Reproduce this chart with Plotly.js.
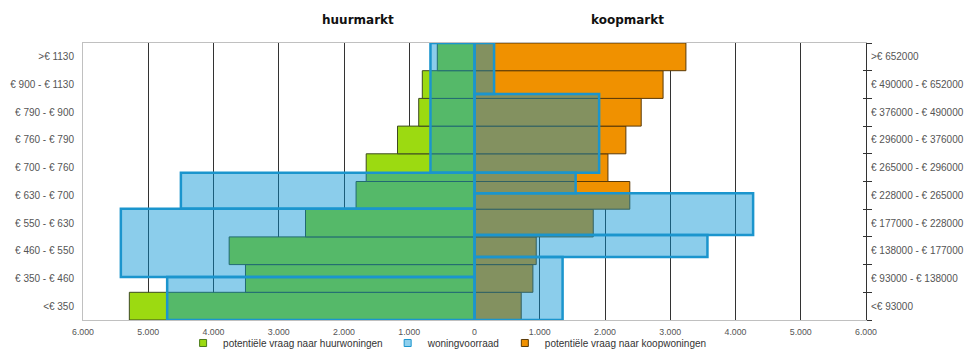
<!DOCTYPE html>
<html>
<head>
<meta charset="utf-8">
<script src="https://cdn.plot.ly/plotly-3.0.1.min.js"></script>
<style>html,body{margin:0;padding:0;background:#fff;}#chart{width:967px;height:351px;}</style>
</head>
<body>
<div id="chart"></div>
<script>
// Rent classes (left, bottom to top) and purchase-price classes (right)
const rentClasses = ['<€ 350', '€ 350 - € 460', '€ 460 - € 550', '€ 550 - € 630', '€ 630 - € 700',
  '€ 700 - € 760', '€ 760 - € 790', '€ 790 - € 900', '€ 900 - € 1130', '>€ 1130'];
const buyClasses = ['<€ 93000', '€ 93000 - € 138000', '€ 138000 - € 177000', '€ 177000 - € 228000',
  '€ 228000 - € 265000', '€ 265000 - € 296000', '€ 296000 - € 376000', '€ 376000 - € 490000',
  '€ 490000 - € 652000', '>€ 652000'];

// potentiële vraag naar huurwoningen (per rent class)
const rentDemand = [5290, 3510, 3760, 2590, 1815, 1660, 1180, 855, 800, 570];
// potentiële vraag naar koopwoningen (per price class)
const buyDemand = [716, 895, 946, 1820, 2380, 2045, 2320, 2555, 2890, 3240];

// woningvoorraad: stock groups, with class edges expressed in class-scale units (0 = bottom, 10 = top)
const stockRentEdges = [0, 1.55, 4.02, 5.32, 10];
const stockRent = [4710, 5420, 4500, 675];
const stockBuyEdges = [0, 2.27, 3.07, 4.58, 5.32, 8.16, 10];
const stockBuy = [1350, 3570, 4270, 1550, 1910, 300];

// axis ticks
const xTickVals = [-6000, -5000, -4000, -3000, -2000, -1000, 0, 1000, 2000, 3000, 4000, 5000, 6000];
const xTickText = ['6.000', '5.000', '4.000', '3.000', '2.000', '1.000', '0', '1.000', '2.000', '3.000', '4.000', '5.000', '6.000'];

// legend entries
const legendNames = ['potentiële vraag naar huurwoningen', 'woningvoorraad', 'potentiële vraag naar koopwoningen'];

// build stock bars (centre + thickness from edges)
const stockY = [], stockW = [], stockX = [];
for (let i = 0; i < stockRent.length; i++) {
  stockY.push((stockRentEdges[i] + stockRentEdges[i + 1]) / 2);
  stockW.push(stockRentEdges[i + 1] - stockRentEdges[i]);
  stockX.push(-stockRent[i]);
}
for (let i = 0; i < stockBuy.length; i++) {
  stockY.push((stockBuyEdges[i] + stockBuyEdges[i + 1]) / 2);
  stockW.push(stockBuyEdges[i + 1] - stockBuyEdges[i]);
  stockX.push(stockBuy[i]);
}

const FONT = 'Liberation Sans, Arial, sans-serif';
const GREEN = '#9cda11', GREEN_LINE = '#3d4a22';
const ORANGE = '#f09100', ORANGE_LINE = '#5a3a08';
const BLUE_FILL = 'rgba(0,145,211,0.455)', BLUE_LINE = '#1b95cd';

const traces = [
  {
    type: 'bar', orientation: 'h', name: legendNames[0],
    y: rentClasses, x: rentDemand.map(v => -v), yaxis: 'y', xaxis: 'x',
    marker: {color: GREEN, line: {color: GREEN_LINE, width: 1}},
    showlegend: false, hoverinfo: 'skip'
  },
  {
    type: 'bar', orientation: 'h', name: legendNames[2],
    y: buyClasses, x: buyDemand, yaxis: 'y2', xaxis: 'x',
    marker: {color: ORANGE, line: {color: ORANGE_LINE, width: 1}},
    showlegend: false, hoverinfo: 'skip'
  },
  {
    type: 'bar', orientation: 'h', name: legendNames[1],
    y: stockY, x: stockX, width: stockW, base: 0, yaxis: 'y4', xaxis: 'x',
    marker: {color: BLUE_FILL, line: {color: BLUE_LINE, width: 2.5}},
    showlegend: false, hoverinfo: 'skip'
  },
  // legend keys (small squares)
  {type: 'scatter', mode: 'markers', name: legendNames[0], x: [null], y: [null],
   marker: {symbol: 'square', size: 7, color: GREEN, line: {color: '#4a7a1a', width: 1}}},
  {type: 'scatter', mode: 'markers', name: legendNames[1], x: [null], y: [null],
   marker: {symbol: 'square', size: 7, color: '#8fd0ee', line: {color: BLUE_LINE, width: 1}}},
  {type: 'scatter', mode: 'markers', name: legendNames[2], x: [null], y: [null],
   marker: {symbol: 'square', size: 7, color: ORANGE, line: {color: ORANGE_LINE, width: 1}}}
];

const layout = {
  width: 967, height: 351,
  margin: {l: 83, r: 101, t: 43, b: 31, autoexpand: false},
  paper_bgcolor: '#fff', plot_bgcolor: '#fff',
  barmode: 'overlay', bargap: 0,
  font: {family: FONT, size: 9, color: '#555'},
  showlegend: true,
  legend: {
    orientation: 'h', x: 0.465, xanchor: 'center', y: -0.083, yanchor: 'middle',
    font: {family: FONT, size: 10, color: '#333'}, traceorder: 'normal',
    itemwidth: 30, bgcolor: 'rgba(0,0,0,0)', tracegroupgap: 0
  },
  xaxis: {
    range: [-6000, 6000], tickmode: 'array', tickvals: xTickVals, ticktext: xTickText,
    showgrid: true, gridcolor: '#333', gridwidth: 1, zeroline: false,
    showline: true, mirror: true, linecolor: '#c0c0c0', linewidth: 1,
    ticks: '', ticklabelstandoff: 3, tickfont: {size: 8.8, color: '#555'}, fixedrange: true
  },
  yaxis: {
    type: 'category', categoryarray: rentClasses, range: [-0.5, 9.5],
    showgrid: false, zeroline: false, showline: true, linecolor: '#c0c0c0',
    ticks: '', ticklabelstandoff: 6, tickfont: {size: 10, color: '#555'}
  },
  yaxis2: {
    type: 'category', categoryarray: buyClasses, range: [-0.5, 9.5],
    overlaying: 'y', side: 'right', anchor: 'x',
    showgrid: false, zeroline: false, showline: true, linecolor: '#333', linewidth: 1,
    ticks: 'outside', tickson: 'boundaries', ticklen: 5, tickcolor: '#333', tickwidth: 1,
    ticklabelstandoff: 2, tickfont: {size: 10, color: '#555'}
  },
  yaxis4: {
    range: [0, 10], overlaying: 'y', side: 'right', anchor: 'x',
    showgrid: false, zeroline: false, showline: false,
    tickmode: 'linear', tick0: 0, dtick: 1, ticks: 'inside', ticklen: 3,
    tickcolor: '#333', showticklabels: false
  },
  annotations: [
    {text: '<b>huurmarkt</b>', xref: 'paper', yref: 'paper', x: 0.351, y: 1.083,
     xanchor: 'center', yanchor: 'middle', showarrow: false,
     font: {family: 'DejaVu Sans, Verdana, sans-serif', size: 12, color: '#111'}},
    {text: '<b>koopmarkt</b>', xref: 'paper', yref: 'paper', x: 0.696, y: 1.083,
     xanchor: 'center', yanchor: 'middle', showarrow: false,
     font: {family: 'DejaVu Sans, Verdana, sans-serif', size: 12, color: '#111'}}
  ]
};

Plotly.newPlot('chart', traces, layout, {staticPlot: true, displayModeBar: false});
</script>
</body>
</html>
